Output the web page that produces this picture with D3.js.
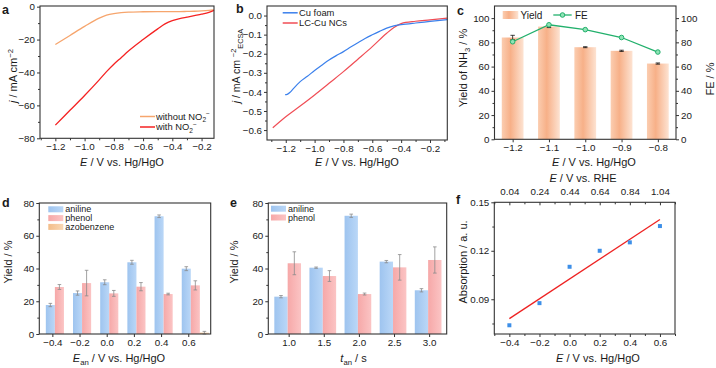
<!DOCTYPE html>
<html>
<head>
<meta charset="utf-8">
<script src="https://cdn.jsdelivr.net/npm/d3@7"></script>
<style>
  body { margin: 0; background: #fff; }
  svg { display: block; font-family: "Liberation Sans", Arial, sans-serif; }
</style>
</head>
<body>
<svg id="fig" width="716" height="368"></svg>
<script>
// ---------- data ----------
// a: LSV with / without nitrite
const aE       = [-1.2, -1.1, -1.0, -0.9, -0.85, -0.8, -0.75, -0.7, -0.6, -0.5, -0.45, -0.4, -0.35, -0.3, -0.25, -0.2, -0.15, -0.115];
const aWithout = [-23, -17.5, -12, -7, -5.2, -4.2, -3.6, -3.3, -3.1, -3, -3, -3, -3, -2.9, -2.8, -2.6, -2.3, -2.0];
const aWith    = [-72, -63, -54, -44.5, -39.5, -35, -31, -27, -20, -13.5, -10.5, -8.5, -7.3, -6.4, -5.5, -4.6, -3.5, -2.3];
const aXTicks = [-1.2, -1.0, -0.8, -0.6, -0.4, -0.2];
const aYTicks = [0, -20, -40, -60, -80];

// b: ECSA-normalised current
const bFoamE = [-1.205, -1.19, -1.17, -1.15, -1.1, -1.05, -1.0, -0.95, -0.9, -0.85, -0.8, -0.75, -0.7, -0.65, -0.6, -0.55, -0.5, -0.45, -0.4, -0.3, -0.2, -0.08];
const bFoamJ = [-0.415, -0.413, -0.402, -0.385, -0.346, -0.318, -0.288, -0.26, -0.233, -0.21, -0.189, -0.165, -0.142, -0.12, -0.101, -0.083, -0.066, -0.054, -0.048, -0.039, -0.031, -0.021];
const bNcE = [-1.29, -1.2, -1.1, -1.0, -0.9, -0.8, -0.7, -0.6, -0.5, -0.45, -0.4, -0.3, -0.2, -0.08];
const bNcJ = [-0.588, -0.53, -0.474, -0.416, -0.355, -0.294, -0.229, -0.163, -0.093, -0.062, -0.042, -0.03, -0.023, -0.014];
const bXTicks = [-1.2, -1.0, -0.8, -0.6, -0.4, -0.2];
const bYTicks = [0, -0.1, -0.2, -0.3, -0.4, -0.5, -0.6];

// c: NH3 yield and FE
const cE = [-1.2, -1.1, -1.0, -0.9, -0.8];
const cYield = [84, 93, 76, 73, 62.5];
const cYieldErr = [1.8, 0.8, 0.4, 0.5, 0.5];
const cFE = [80.5, 94.5, 90.5, 84, 72];
const cYTicks = [0, 20, 40, 60, 80, 100];

// d: anodic potential
const dE = [-0.4, -0.2, 0.0, 0.2, 0.4, 0.6];
const dAniline = [17.7, 25, 31.6, 43.8, 71.9, 39.9];
const dAnilineErr = [1, 1.3, 1.5, 1.2, 0.8, 1.2];
const dPhenol = [28.7, 31.1, 24.8, 28.9, 24.4, 29.7];
const dPhenolErr = [1.5, 7.8, 1.8, 2.5, 0.5, 2.8];
const dAzo = [0, 0, 0, 0, 0, 0.8];
const dAzoErr = [0, 0, 0, 0, 0, 0.8];

// e: anodic time
const eT = [1.0, 1.5, 2.0, 2.5, 3.0];
const eAniline = [22.8, 40.5, 72.2, 44.2, 26.7];
const eAnilineErr = [0.7, 0.4, 1, 0.7, 1];
const ePhenol = [43.2, 35.4, 24.4, 40.7, 45.2];
const ePhenolErr = [7, 3.3, 0.6, 7.8, 8];
const rowYTicks = [0, 20, 40, 60, 80];

// f: absorption vs potential
const fE = [-0.4, -0.2, 0.0, 0.2, 0.4, 0.6];
const fRHE = ["0.04", "0.24", "0.44", "0.64", "0.84", "1.04"];
const fAbs = [0.0739, 0.0876, 0.1101, 0.120, 0.1252, 0.1353];
const fYTicks = [0.09, 0.12, 0.15];

// ---------- helpers ----------
const svg = d3.select("#fig");
const INK = "#333";
const TXT = "#1a1a1a";
const defs = svg.append("defs");

function grad(id, stops) {
  const g = defs.append("linearGradient").attr("id", id)
    .attr("x1", "0%").attr("x2", "100%").attr("y1", "0%").attr("y2", "0%");
  stops.forEach(([o, c]) => g.append("stop").attr("offset", o).attr("stop-color", c));
}
grad("gYield", [["0%", "#fbcdb0"], ["40%", "#f7b088"], ["100%", "#fde3d2"]]);
grad("gAniline", [["0%", "#9ec4ef"], ["100%", "#bad7f7"]]);
grad("gPhenol", [["0%", "#f6a8a8"], ["100%", "#fbc4c4"]]);
grad("gAzo", [["0%", "#f3bd89"], ["100%", "#f9d7b4"]]);

function frame(b) {
  svg.append("rect").attr("x", b.l).attr("y", b.t)
    .attr("width", b.r - b.l).attr("height", b.b - b.t)
    .attr("fill", "none").attr("stroke", INK).attr("stroke-width", 1.1);
}

function axis(gen, tx, ty) {
  const g = svg.append("g").attr("transform", `translate(${tx},${ty})`).call(gen)
    .attr("font-family", null).attr("font-size", null);
  g.select(".domain").remove();
  g.selectAll(".tick line").attr("stroke", INK).attr("stroke-width", 1);
  g.selectAll(".tick text").attr("fill", TXT).style("font-size", "9.8px");
  return g;
}

function halfSteps(ticks) {
  const out = [];
  for (let i = 0; i < ticks.length - 1; i++) out.push((ticks[i] + ticks[i + 1]) / 2);
  return out;
}

// text with italic / sub / sup parts
function label(x, y, parts, opt = {}) {
  const fs = opt.size || 11;
  const t = svg.append("text").attr("font-size", fs).attr("fill", TXT)
    .attr("text-anchor", opt.anchor || "middle");
  if (opt.bold) t.attr("font-weight", "bold");
  if (opt.rotate) t.attr("transform", `translate(${x},${y}) rotate(-90)`);
  else t.attr("x", x).attr("y", y);
  let shift = opt.rotate ? -0.35 * fs : 0;
  parts.forEach((p) => {
    const s = typeof p === "string" ? { t: p } : p;
    const off = s.sup ? -0.38 * fs : s.sub ? 0.28 * fs : 0;
    const ts = t.append("tspan").text(s.t).attr("dy", off - shift);
    shift = off;
    if (s.sup || s.sub) ts.attr("font-size", fs * 0.7);
    if (s.i) ts.attr("font-style", "italic");
  });
  return t;
}

function errBars(data, xf, yf, color, cap) {
  data.forEach((d) => {
    if (!d.e) return;
    const x = xf(d), y0 = yf(d.v - d.e), y1 = yf(d.v + d.e);
    svg.append("line").attr("x1", x).attr("x2", x).attr("y1", y0).attr("y2", y1)
      .attr("stroke", color).attr("stroke-width", 0.8);
    [y0, y1].forEach((yy) => svg.append("line").attr("x1", x - cap).attr("x2", x + cap)
      .attr("y1", yy).attr("y2", yy).attr("stroke", color).attr("stroke-width", 0.8));
  });
}

const fmt1 = d3.format(".1f");
const mkLine = (x, y) => d3.line().x((d) => x(d[0])).y((d) => y(d[1])).curve(d3.curveMonotoneX);

// ---------- panel a ----------
{
  const B = { l: 40, r: 214, t: 6, b: 138.3 };
  const x = d3.scaleLinear().domain([-1.305, -0.115]).range([B.l, B.r]);
  const y = d3.scaleLinear().domain([-80, 0.4]).range([B.b, B.t]);
  svg.append("path").datum(d3.zip(aE, aWithout)).attr("d", mkLine(x, y))
    .attr("fill", "none").attr("stroke", "#f6a56d").attr("stroke-width", 1.3);
  svg.append("path").datum(d3.zip(aE, aWith)).attr("d", mkLine(x, y))
    .attr("fill", "none").attr("stroke", "#f52222").attr("stroke-width", 1.3);
  frame(B);
  axis(d3.axisBottom(x).tickValues(aXTicks).tickFormat(fmt1).tickSize(3).tickPadding(2), 0, B.b);
  axis(d3.axisBottom(x).tickValues(halfSteps(aXTicks).concat([-1.3])).tickFormat("").tickSize(2), 0, B.b);
  axis(d3.axisLeft(y).tickValues(aYTicks).tickFormat(d3.format("d")).tickSize(3).tickPadding(2), B.l, 0);
  axis(d3.axisLeft(y).tickValues(halfSteps(aYTicks)).tickFormat("").tickSize(2), B.l, 0);

  [["#f6a56d", 116.5, ["without NO", { t: "2", sub: true }, { t: "−", sup: true }]],
   ["#f52222", 127, ["with NO", { t: "2", sub: true }, { t: "−", sup: true }]]]
    .forEach(([c, yy, parts]) => {
      svg.append("line").attr("x1", 140).attr("x2", 155).attr("y1", yy).attr("y2", yy)
        .attr("stroke", c).attr("stroke-width", 1.5);
      label(156, yy + 3.2, parts, { size: 9.4, anchor: "start" });
    });

  label(122, 166, [{ t: "E", i: true }, " / V vs. Hg/HgO"]);
  label(13, 76, [{ t: "j", i: true }, " / mA cm", { t: "−2", sup: true }], { rotate: true });
  label(2, 14, ["a"], { size: 12.5, bold: true, anchor: "start" });
}

// ---------- panel b ----------
{
  const B = { l: 267, r: 447.3, t: 6, b: 140 };
  const x = d3.scaleLinear().domain([-1.33, -0.08]).range([B.l, B.r]);
  const y = d3.scaleLinear().domain([-0.652, 0.05]).range([B.b, B.t]);
  svg.append("path").datum(d3.zip(bNcE, bNcJ)).attr("d", mkLine(x, y))
    .attr("fill", "none").attr("stroke", "#f04d55").attr("stroke-width", 1.2);
  svg.append("path").datum(d3.zip(bFoamE, bFoamJ)).attr("d", mkLine(x, y))
    .attr("fill", "none").attr("stroke", "#3b80ec").attr("stroke-width", 1.2);
  frame(B);
  axis(d3.axisBottom(x).tickValues(bXTicks).tickFormat(fmt1).tickSize(3).tickPadding(2), 0, B.b);
  axis(d3.axisBottom(x).tickValues(halfSteps(bXTicks).concat([-1.3, -0.1])).tickFormat("").tickSize(2), 0, B.b);
  axis(d3.axisLeft(y).tickValues(bYTicks).tickFormat(fmt1).tickSize(3).tickPadding(2), B.l, 0);
  axis(d3.axisLeft(y).tickValues(halfSteps(bYTicks)).tickFormat("").tickSize(2), B.l, 0);

  [["#3b80ec", 12.8, "Cu foam"], ["#f04d55", 23, "LC-Cu NCs"]].forEach(([c, yy, t]) => {
    svg.append("line").attr("x1", 282.7).attr("x2", 297.7).attr("y1", yy).attr("y2", yy)
      .attr("stroke", c).attr("stroke-width", 1.5);
    label(299, yy + 3.3, [t], { size: 9.4, anchor: "start" });
  });

  label(357, 165.5, [{ t: "E", i: true }, " / V vs. Hg/HgO"]);
  label(236, 66, [{ t: "j", i: true }, " / mA cm ", { t: "−2", sup: true }, { t: "ECSA", sub: true }], { rotate: true, size: 10.5 });
  label(236, 13, ["b"], { size: 12.5, bold: true, anchor: "start" });
}

// ---------- panel c ----------
{
  const B = { l: 494.5, r: 676, t: 6, b: 139.3 };
  const x = d3.scaleLinear().domain([-1.25, -0.75]).range([B.l, B.r]);
  const y = d3.scaleLinear().domain([0, 110]).range([B.b, B.t]);
  const bw = (x(-1.1) - x(-1.2)) * 0.6;
  const rows = cE.map((e, i) => ({ e, v: cYield[i], err: cYieldErr[i], fe: cFE[i] }));
  svg.selectAll(".cbar").data(rows).enter().append("rect")
    .attr("x", (d) => x(d.e) - bw / 2).attr("width", bw)
    .attr("y", (d) => y(d.v)).attr("height", (d) => B.b - y(d.v))
    .attr("fill", "url(#gYield)");
  errBars(rows.map((d) => ({ x: d.e, v: d.v, e: d.err })), (d) => x(d.x), y, "#111", 2.2);
  const feLine = d3.line().x((d) => x(d.e)).y((d) => y(d.fe));
  svg.append("path").datum(rows).attr("d", feLine)
    .attr("fill", "none").attr("stroke", "#22b06c").attr("stroke-width", 1.3);
  svg.selectAll(".fe").data(rows).enter().append("circle")
    .attr("cx", (d) => x(d.e)).attr("cy", (d) => y(d.fe)).attr("r", 2.3)
    .attr("fill", "#8fe3b6").attr("stroke", "#22b06c").attr("stroke-width", 1);
  frame(B);
  axis(d3.axisBottom(x).tickValues(cE).tickFormat(fmt1).tickSize(3).tickPadding(2), 0, B.b);
  axis(d3.axisLeft(y).tickValues(cYTicks).tickFormat(d3.format("d")).tickSize(3).tickPadding(2), B.l, 0);
  axis(d3.axisLeft(y).tickValues(halfSteps(cYTicks)).tickFormat("").tickSize(2), B.l, 0);
  axis(d3.axisRight(y).tickValues(cYTicks).tickFormat(d3.format("d")).tickSize(3).tickPadding(2), B.r, 0);
  axis(d3.axisRight(y).tickValues(halfSteps(cYTicks)).tickFormat("").tickSize(2), B.r, 0);

  svg.append("rect").attr("x", 502.7).attr("y", 11).attr("width", 15.6).attr("height", 8)
    .attr("fill", "url(#gYield)");
  label(520.5, 18.5, ["Yield"], { size: 10, anchor: "start" });
  svg.append("line").attr("x1", 553.3).attr("x2", 571.7).attr("y1", 15).attr("y2", 15)
    .attr("stroke", "#22b06c").attr("stroke-width", 1.3);
  svg.append("circle").attr("cx", 562.5).attr("cy", 15).attr("r", 2.3)
    .attr("fill", "#8fe3b6").attr("stroke", "#22b06c");
  label(575, 18.5, ["FE"], { size: 10, anchor: "start" });

  label(594, 165.5, [{ t: "E", i: true }, " / V vs. Hg/HgO"]);
  label(463, 68, ["Yield of NH", { t: "3", sub: true }, " / %"], { rotate: true });
  label(710, 79, ["FE / %"], { rotate: true });
  label(457, 15, ["c"], { size: 12.5, bold: true, anchor: "start" });
}

// grouped bar panel (d, e)
function groupPanel(B, x, cats, series, bw, start) {
  const y = d3.scaleLinear().domain([0, 80]).range([B.b, B.t]);
  series.forEach((s, k) => {
    const rows = cats.map((c, i) => ({ c, v: s.v[i], e: s.err[i] }));
    const bx = (d) => x(d.c) + start + k * bw;
    svg.selectAll(null).data(rows).enter().append("rect")
      .attr("x", bx).attr("width", bw)
      .attr("y", (d) => y(d.v)).attr("height", (d) => B.b - y(d.v))
      .attr("fill", s.fill);
    errBars(rows, (d) => bx(d) + bw / 2, y, "#8a8a8a", 1.8);
  });
  frame(B);
  axis(d3.axisLeft(y).tickValues(rowYTicks).tickFormat(d3.format("d")).tickSize(3).tickPadding(2), B.l, 0);
  axis(d3.axisLeft(y).tickValues(halfSteps(rowYTicks)).tickFormat("").tickSize(2), B.l, 0);
  axis(d3.axisBottom(x).tickValues(cats).tickFormat(fmt1).tickSize(3).tickPadding(2), 0, B.b);
}

function barLegend(x0, y0, items) {
  items.forEach(([fill, name], i) => {
    svg.append("rect").attr("x", x0).attr("y", y0 + i * 8.8).attr("width", 15).attr("height", 6)
      .attr("fill", fill);
    label(x0 + 17, y0 + i * 8.8 + 6, [name], { size: 9, anchor: "start" });
  });
}

// ---------- panel d ----------
{
  const B = { l: 39.3, r: 210.7, t: 203, b: 334 };
  const x = d3.scaleLinear().domain([-0.496, 0.765]).range([B.l, B.r]);
  const bw = (x(0.2) - x(0)) / 3;
  groupPanel(B, x, dE, [
    { v: dAniline, err: dAnilineErr, fill: "url(#gAniline)" },
    { v: dPhenol, err: dPhenolErr, fill: "url(#gPhenol)" },
    { v: dAzo, err: dAzoErr, fill: "url(#gAzo)" },
  ], bw, -0.72 * bw);
  barLegend(48.3, 206.3, [["url(#gAniline)", "aniline"], ["url(#gPhenol)", "phenol"], ["url(#gAzo)", "azobenzene"]]);
  label(119, 362, [{ t: "E", i: true }, { t: "an", sub: true }, " / V vs. Hg/HgO"]);
  label(8, 262, ["Yield / %"], { rotate: true });
  label(2, 207, ["d"], { size: 12.5, bold: true, anchor: "start" });
}

// ---------- panel e ----------
{
  const B = { l: 268.3, r: 446.7, t: 203, b: 334 };
  const x = d3.scaleLinear().domain([0.71, 3.25]).range([B.l, B.r]);
  const bw = (x(1.5) - x(1.0)) * 0.38;
  groupPanel(B, x, eT, [
    { v: eAniline, err: eAnilineErr, fill: "url(#gAniline)" },
    { v: ePhenol, err: ePhenolErr, fill: "url(#gPhenol)" },
  ], bw, -bw - 1);
  barLegend(271, 205.7, [["url(#gAniline)", "aniline"], ["url(#gPhenol)", "phenol"]]);
  label(353.5, 362, [{ t: "t", i: true }, { t: "an", sub: true }, " / s"]);
  label(234, 262, ["Yield / %"], { rotate: true });
  label(230, 207, ["e"], { size: 12.5, bold: true, anchor: "start" });
}

// ---------- panel f ----------
{
  const B = { l: 494.3, r: 675, t: 202.3, b: 334 };
  const x = d3.scaleLinear().domain([-0.5, 0.7]).range([B.l, B.r]);
  const y = d3.scaleLinear().domain([0.0685, 0.15]).range([B.b, B.t]);
  const pts = d3.zip(fE, fAbs);
  const mx = d3.mean(fE), my = d3.mean(fAbs);
  const slope = d3.sum(pts, (p) => (p[0] - mx) * (p[1] - my)) / d3.sum(fE, (v) => (v - mx) ** 2);
  const fit = (v) => my + slope * (v - mx);
  const ends = d3.extent(fE);
  svg.append("line").attr("x1", x(ends[0])).attr("y1", y(fit(ends[0])))
    .attr("x2", x(ends[1])).attr("y2", y(fit(ends[1])))
    .attr("stroke", "#ee2222").attr("stroke-width", 1.3);
  svg.selectAll(".fp").data(pts).enter().append("rect")
    .attr("x", (d) => x(d[0]) - 2).attr("y", (d) => y(d[1]) - 2)
    .attr("width", 4).attr("height", 4).attr("fill", "#3d8fe8");
  frame(B);
  const xMinor = [-0.5, -0.3, -0.1, 0.1, 0.3, 0.5, 0.7];
  axis(d3.axisBottom(x).tickValues(fE).tickFormat(fmt1).tickSize(3).tickPadding(2), 0, B.b);
  axis(d3.axisBottom(x).tickValues(xMinor).tickFormat("").tickSize(2), 0, B.b);
  axis(d3.axisTop(x).tickValues(fE).tickFormat((d, i) => fRHE[i]).tickSize(-3).tickPadding(7.8), 0, B.t);
  axis(d3.axisTop(x).tickValues(xMinor).tickFormat("").tickSize(-2), 0, B.t);
  axis(d3.axisLeft(y).tickValues(fYTicks).tickFormat(d3.format(".2f")).tickSize(3).tickPadding(2), B.l, 0);
  axis(d3.axisLeft(y).tickValues([0.075, 0.105, 0.135]).tickFormat("").tickSize(2), B.l, 0);

  label(598, 362, [{ t: "E", i: true }, " / V vs. Hg/HgO"]);
  label(583, 182, [{ t: "E", i: true }, " / V vs. RHE"]);
  label(463, 262, ["Absorption / a. u."], { rotate: true });
  label(456, 204, ["f"], { size: 12.5, bold: true, anchor: "start" });
}
</script>
</body>
</html>
